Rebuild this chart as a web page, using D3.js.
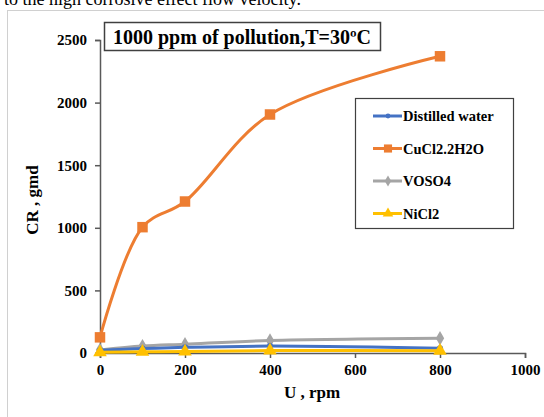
<!DOCTYPE html>
<html>
<head>
<meta charset="utf-8">
<script src="https://cdn.jsdelivr.net/npm/d3@7"></script>
<style>
body { margin: 0; background: #fff; }
text { font-family: "Liberation Serif", "Times New Roman", serif; }
</style>
</head>
<body>
<script>
// data
var speeds = [0, 100, 200, 400, 800];
var distilled = [22, 35, 45, 55, 38];
var cucl2 = [125, 1005, 1210, 1905, 2370];
var voso4 = [25, 55, 70, 100, 118];
var nicl2 = [5, 10, 12, 20, 18];
var xTicks = [0, 200, 400, 600, 800, 1000];
var yTicks = [0, 500, 1000, 1500, 2000, 2500];

var series = [
	{name: "Distilled water", vals: distilled, color: "#4472c4", sym: d3.symbolCircle, size: 30},
	{name: "CuCl2.2H2O", vals: cucl2, color: "#ed7d31", sym: d3.symbolSquare, size: 110},
	{name: "VOSO4", vals: voso4, color: "#a5a5a5", sym: d3.symbolDiamond, size: 60},
	{name: "NiCl2", vals: nicl2, color: "#ffc000", sym: d3.symbolTriangle, size: 80}
];

var width = 544, height = 417;
var svg = d3.select("body").append("svg").attr("width", width).attr("height", height);

// text line above the figure, cut by the top edge like the picture
svg.append("text").attr("x", 4).attr("y", 5).style("font-size", "18px").attr("fill", "#000")
	.text("to the high corrosive effect flow velocity.");

// figure frame
svg.append("rect").attr("x", 7.5).attr("y", 10.5).attr("width", 560).attr("height", 420)
	.attr("fill", "#fff").attr("stroke", "#d0d0d0");

var x = d3.scaleLinear().domain([0, 1000]).range([100, 525]);
var y = d3.scaleLinear().domain([0, 2500]).range([353, 40]);

var xAxis = svg.append("g").attr("transform", "translate(0,353)")
	.call(d3.axisBottom(x).tickValues(xTicks).tickFormat(d3.format("d")).tickSize(5).tickPadding(6));
var yAxis = svg.append("g").attr("transform", "translate(100,0)")
	.call(d3.axisLeft(y).tickValues(yTicks).tickFormat(d3.format("d")).tickSize(5).tickPadding(8));

[xAxis, yAxis].forEach(function (a) {
	a.select(".domain").attr("stroke", "#595959").attr("stroke-width", 1.5);
	a.selectAll(".tick line").attr("stroke", "#595959").attr("stroke-width", 1.5);
	a.selectAll(".tick text").style("font-family", "Liberation Serif").style("font-size", "15px")
		.style("font-weight", "bold").attr("fill", "#000");
});

svg.append("text").attr("x", 312).attr("y", 398).attr("text-anchor", "middle")
	.style("font-size", "17px").style("font-weight", "bold").text("U , rpm");
svg.append("text").attr("transform", "translate(38,200) rotate(-90)").attr("text-anchor", "middle")
	.style("font-size", "17px").style("font-weight", "bold").text("CR , gmd");

var line = d3.line().x(function (d) { return x(d[0]); }).y(function (d) { return y(d[1]); })
	.curve(d3.curveCatmullRom.alpha(0.5));

// draw back to front so orange is on top like the picture
[2, 0, 3, 1].forEach(function (i) {
	var s = series[i];
	var pts = speeds.map(function (v, j) { return [v, s.vals[j]]; });
	svg.append("path").datum(pts).attr("d", line).attr("fill", "none")
		.attr("stroke", s.color).attr("stroke-width", 3);
	svg.selectAll(null).data(pts).enter().append("path")
		.attr("d", d3.symbol().type(s.sym).size(s.size))
		.attr("transform", function (d) { return "translate(" + x(d[0]) + "," + y(d[1]) + ")"; })
		.attr("fill", s.color);
});

// title box
svg.append("rect").attr("x", 104.5).attr("y", 22.5).attr("width", 276).attr("height", 28)
	.attr("fill", "#fff").attr("stroke", "#404040").attr("stroke-width", 1.5);
svg.append("text").attr("x", 242).attr("y", 43.5).attr("text-anchor", "middle")
	.style("font-size", "20px").style("font-weight", "bold").text("1000 ppm of pollution,T=30ºC");

// legend
svg.append("rect").attr("x", 355.5).attr("y", 98.5).attr("width", 158).attr("height", 130)
	.attr("fill", "#fff").attr("stroke", "#404040").attr("stroke-width", 1.2);
var lg = svg.selectAll(".lg").data(series).enter().append("g")
	.attr("transform", function (d, i) { return "translate(373," + (116 + i * 32.5) + ")"; });
lg.append("line").attr("x1", 0).attr("x2", 29).attr("stroke", function (d) { return d.color; }).attr("stroke-width", 3);
lg.append("path").attr("d", function (d) { return d3.symbol().type(d.sym).size(d.size * 0.6)(); })
	.attr("transform", "translate(15,0)").attr("fill", function (d) { return d.color; });
lg.append("text").attr("x", 30).attr("y", 5).style("font-size", "14.5px").style("font-weight", "bold")
	.text(function (d) { return d.name; });
</script>
</body>
</html>
